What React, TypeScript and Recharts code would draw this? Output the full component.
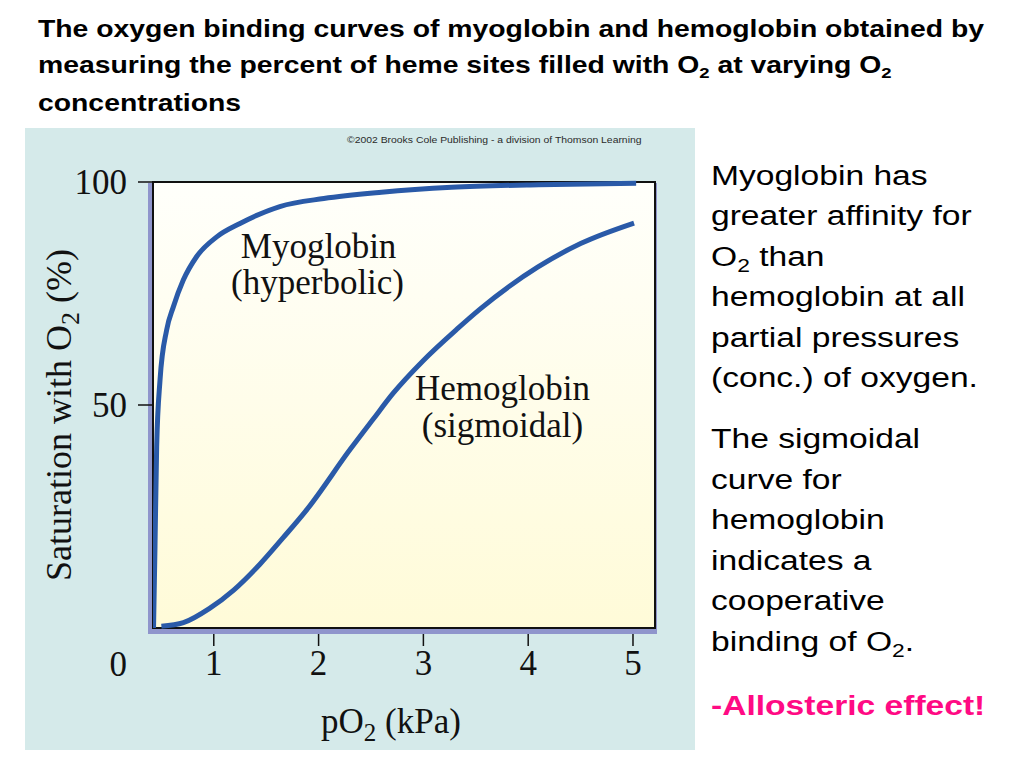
import React from "react";
import {
  LineChart,
  Line,
  XAxis,
  YAxis,
  ReferenceArea,
  ReferenceDot,
} from "recharts";

// pO2 (kPa) and saturation (%)
const PO2_MB = [0.425, 0.439, 0.455, 0.487, 0.55, 0.614, 0.709, 0.837, 1.028, 1.25, 1.63, 2.05, 2.6, 3.27, 4.1, 5.03];
const SAT_MB = [0, 18.2, 40.7, 55.6, 66.8, 72, 78, 83.3, 87.7, 90.7, 94.5, 96.3, 97.7, 98.8, 99.4, 99.7];

const PO2_HB = [0.5, 0.71, 0.96, 1.19, 1.44, 1.66, 1.89, 2.3, 2.52, 2.71, 3.0, 3.32, 3.54, 4.09, 4.5, 5.01];
const SAT_HB = [0.4, 1.2, 4.4, 8.5, 14.3, 20.2, 26.6, 40.0, 46.8, 52.6, 60.0, 67.0, 71.5, 80.9, 86.2, 90.8];

const X_TICKS = [1, 2, 3, 4, 5];
const Y_TICKS = [0, 50, 100];

const ANNOTATIONS = [
  { text: "Myoglobin", p: 2.0, s: 85.8 },
  { text: "(hyperbolic)", p: 1.99, s: 77.6 },
  { text: "Hemoglobin", p: 3.755, s: 54.0 },
  { text: "(sigmoidal)", p: 3.755, s: 45.5 },
];

const mbData = PO2_MB.map((p, i) => ({ p, s: SAT_MB[i] }));
const hbData = PO2_HB.map((p, i) => ({ p, s: SAT_HB[i] }));

const SERIF = "'Liberation Serif', 'Times New Roman', serif";
const SANS = "'Liberation Sans', Arial, sans-serif";
const CURVE = "#2a5aa8";
const PLOT_BOTTOM = 500;

const FrameShape = (props: any) => {
  const { x, y, width, height } = props;
  return (
    <g>
      <rect x={x - 5} y={y + 1} width={width + 7} height={height + 5} fill="#8f95cc" />
      <rect x={x} y={y} width={width} height={height} fill="url(#cream)" stroke="#111" strokeWidth={2} />
    </g>
  );
};

const XTick = (props: any) => {
  const { x, payload } = props;
  return (
    <g>
      <line x1={x} x2={x} y1={PLOT_BOTTOM + 6} y2={PLOT_BOTTOM + 18} stroke="#111" strokeWidth={1.5} />
      <text x={x} y={PLOT_BOTTOM + 47} textAnchor="middle" fontFamily={SERIF} fontSize={35} fill="#111">
        {payload.value}
      </text>
    </g>
  );
};

const YTick = (props: any) => {
  const { x, y, payload } = props;
  const zero = payload.value === 0;
  return (
    <g>
      {!zero && <line x1={x - 15} x2={x} y1={y} y2={y} stroke="#111" strokeWidth={1.5} />}
      <text
        x={x - 26}
        y={zero ? y + 48 : y + 12}
        textAnchor="end"
        fontFamily={SERIF}
        fontSize={35}
        fill="#111"
      >
        {payload.value}
      </text>
    </g>
  );
};

function Chart() {
  return (
    <LineChart width={670} height={622} margin={{ top: 54, right: 40, left: 0, bottom: 0 }}>
      <defs>
        <linearGradient id="cream" x1="0" y1="0" x2="0" y2="1">
          <stop offset="0%" stopColor="#fffffb" />
          <stop offset="100%" stopColor="#fffbd8" />
        </linearGradient>
      </defs>
      <XAxis
        type="number"
        dataKey="p"
        domain={[0.42, 5.21]}
        ticks={X_TICKS}
        allowDataOverflow
        axisLine={false}
        tickLine={false}
        tickSize={0}
        tickMargin={0}
        height={122}
        tick={<XTick />}
        interval={0}
      />
      <YAxis
        type="number"
        domain={[0, 100]}
        ticks={Y_TICKS}
        axisLine={false}
        tickLine={false}
        tickSize={0}
        tickMargin={0}
        width={128}
        tick={<YTick />}
        interval={0}
      />
      <ReferenceArea x1={0.42} x2={5.21} y1={0} y2={100} shape={FrameShape} />
      <Line
        data={mbData}
        dataKey="s"
        type="monotone"
        stroke={CURVE}
        strokeWidth={5}
        dot={false}
        isAnimationActive={false}
      />
      <Line
        data={hbData}
        dataKey="s"
        type="monotone"
        stroke={CURVE}
        strokeWidth={5}
        dot={false}
        isAnimationActive={false}
      />
      {ANNOTATIONS.map((a) => (
        <ReferenceDot
          key={a.text}
          x={a.p}
          y={a.s}
          r={0}
          fill="none"
          stroke="none"
          label={{ value: a.text, position: "center", fontFamily: SERIF, fontSize: 35, fill: "#111" }}
        />
      ))}
      <text x={366} y={605} textAnchor="middle" fontFamily={SERIF} fontSize={35} fill="#111">
        pO<tspan dy={8} fontSize={25}>2</tspan>
        <tspan dy={-8}> (kPa)</tspan>
      </text>
      <text
        transform="translate(46,287) rotate(-90)"
        textAnchor="middle"
        fontFamily={SERIF}
        fontSize={36}
        fill="#111"
      >
        Saturation with O<tspan dy={8} fontSize={26}>2</tspan>
        <tspan dy={-8}> (%)</tspan>
      </text>
      <text
        transform="translate(322,15) scale(1.21,1)"
        fontFamily={SANS}
        fontSize={8.6}
        fill="#2a2a2a"
      >
        ©2002 Brooks Cole Publishing - a division of Thomson Learning
      </text>
    </LineChart>
  );
}

// lines of the side note; "O2" gets a subscript 2
const NOTE_LINES = [
  "Myoglobin has",
  "greater affinity for",
  "O2 than",
  "hemoglobin at all",
  "partial pressures",
  "(conc.) of oxygen.",
  "The sigmoidal",
  "curve for",
  "hemoglobin",
  "indicates a",
  "cooperative",
  "binding of O2.",
];
const NOTE_BASELINES = [185, 225, 265.5, 306, 346.5, 387, 448, 488.5, 529, 569.5, 610, 650.5];

const NoteLine = ({ text }: { text: string }) => {
  const i = text.indexOf("O2");
  if (i < 0) return <>{text}</>;
  const before = text.slice(0, i + 1);
  const after = text.slice(i + 2);
  return (
    <>
      <tspan>{before}</tspan>
      <tspan dy={6} fontSize={19}>2</tspan>
      {after && <tspan dy={-6}>{after}</tspan>}
    </>
  );
};

export default function App() {
  const tx = "scale(1.233,1)";
  const rx = "scale(1.2,1)";
  return (
    <div style={{ position: "absolute", left: 0, top: 0, width: 1024, height: 768, background: "#fff", overflow: "hidden" }}>
      <svg width={1024} height={768} style={{ position: "absolute", left: 0, top: 0 }}>
        <g fontFamily={SANS} fontWeight="bold" fontSize={23} fill="#000">
          <g transform="translate(38,37)">
            <text transform={tx}>The oxygen binding curves of myoglobin and hemoglobin obtained by</text>
          </g>
          <g transform="translate(38,73)">
            <text transform={tx}>
              <tspan>measuring the percent of heme sites filled with O</tspan>
              <tspan dy={5} fontSize={15}>2</tspan>
              <tspan dy={-5}> at varying O</tspan>
              <tspan dy={5} fontSize={15}>2</tspan>
            </text>
          </g>
          <g transform="translate(38,111)">
            <text transform={tx}>concentrations</text>
          </g>
        </g>
        <g fontFamily={SANS} fontSize={28} fill="#000">
          {NOTE_LINES.map((t, k) => (
            <g key={t + k} transform={`translate(711,${NOTE_BASELINES[k]})`}>
              <text transform={rx}>
                <NoteLine text={t} />
              </text>
            </g>
          ))}
          <g transform="translate(711,715)">
            <text transform={rx} fontWeight="bold" fill="#ff0a84">
              -Allosteric effect!
            </text>
          </g>
        </g>
      </svg>
      <div style={{ position: "absolute", left: 25, top: 128, width: 670, height: 622, background: "#d5eaea" }}>
        <Chart />
      </div>
    </div>
  );
}
